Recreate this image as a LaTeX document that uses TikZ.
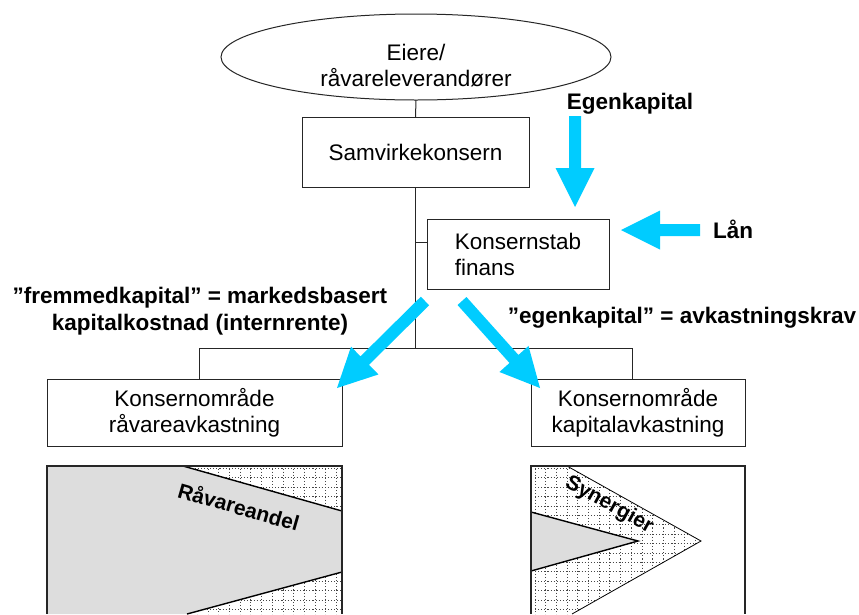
\documentclass[tikz,border=0pt]{standalone}
\usepackage{fontspec}
\setmainfont{Liberation Sans}
\usetikzlibrary{calc,shapes.geometric}
\definecolor{flowblue}{RGB}{0,204,255}
\definecolor{panelgray}{RGB}{221,221,221}
\definecolor{gridgray}{RGB}{70,70,70}

% block arrow from #1 to #2 (named coordinates)
\newcommand{\blockarrow}[2]{%
  \path ($(#2)!39pt!(#1)$) coordinate (ba-base);
  \fill[flowblue] ($(#1)!6pt!90:(#2)$) -- ($(ba-base)!6pt!-90:(#1)$)
    -- ($(ba-base)!19.5pt!-90:(#1)$) -- (#2)
    -- ($(ba-base)!19.5pt!90:(#1)$) -- ($(ba-base)!6pt!90:(#1)$)
    -- ($(#1)!6pt!-90:(#2)$) -- cycle;}

% dotted grid inside the current clip, starting at (#1,#2)
\newcommand{\dotgrid}[2]{%
  \foreach \i in {0,...,17} {
    \draw[griddots] ({#1+10.7*\i},{#2}) -- ({#1+10.7*\i},{#2+160});
    \draw[griddots] ({#1},{#2+9.4*\i}) -- ({#1+190},{#2+9.4*\i});
  }}

\begin{document}
\begin{tikzpicture}[x=1pt,y=-1pt,
  every node/.style={inner sep=0pt,outer sep=0pt},
  txt/.style={font=\fontsize{22.5}{26}\selectfont,align=center},
  bold/.style={font=\fontsize{22.5}{27}\selectfont\bfseries,align=center},
  unitbox/.style={draw=black!85,line width=1pt,fill=white,txt},
  tree/.style={draw=black!85,line width=1pt},
  griddots/.style={gridgray,line width=0.9pt,dash pattern=on 1.1pt off 2pt},
  edge/.style={black,line width=1.4pt},
  thinedge/.style={black,line width=0.8pt},
  frame/.style={draw=black!85,line width=1.2pt},
  panellabel/.style={font=\fontsize{21}{24}\selectfont\bfseries}]
\useasboundingbox (0,0) rectangle (859,614);

% organisation tree
\node[ellipse,draw=black!85,line width=1pt,fill=white,minimum width=390pt,minimum height=86pt] (eiere) at (416,57) {};
\node[txt] (eieretext) at (416,66) {Eiere/\\råvareleverandører};
\node[unitbox,minimum width=227pt,minimum height=70pt] (samvirke) at (415.5,152) {Samvirkekonsern};
\node[unitbox,minimum width=182pt,minimum height=70pt,align=left] (stab) at (518,254) {Konsernstab\\finans};
\node[unitbox,minimum width=295pt,minimum height=67pt] (raavare) at (194.5,412.5) {Konsernområde\\råvareavkastning};
\node[unitbox,minimum width=214pt,minimum height=67pt] (kapital) at (638,412.5) {Konsernområde\\kapitalavkastning};

\coordinate (hub) at (415.5,348);
\coordinate (barL) at (199,348);
\coordinate (barR) at (632,348);
\coordinate (stabjoin) at (427,242);
\draw[tree] (eiere.south) -- (samvirke.north);
\draw[tree] (samvirke.south) -- (hub);
\draw[tree] (stabjoin -| hub) -- (stabjoin);
\draw[tree] (barL) -- (barR);
\draw[tree] (barL) -- (barL |- raavare.north);
\draw[tree] (barR) -- (barR |- kapital.north);

% capital flows
\coordinate (ek-tail) at (575,116);
\coordinate (ek-tip) at (575,207);
\coordinate (lan-tail) at (700,230);
\coordinate (lan-tip) at (621,230);
\coordinate (fk-tail) at (425,301);
\coordinate (fk-tip) at (337,388);
\coordinate (ak-tail) at (462,301);
\coordinate (ak-tip) at (540,388);
\blockarrow{ek-tail}{ek-tip}
\blockarrow{lan-tail}{lan-tip}
\blockarrow{fk-tail}{fk-tip}
\blockarrow{ak-tail}{ak-tip}

\node[bold] (eklabel) at (630,104) {Egenkapital};
\node[bold] (lanlabel) at (733,229) {Lån};
\node[bold] (fklabel) at (200,311.5) {”fremmedkapital” = markedsbasert\\kapitalkostnad (internrente)};
\node[bold] (aklabel) at (682,318) {”egenkapital” = avkastningskrav};

% left panel: raw material share
\fill[panelgray] (47,466) -- (183,466) -- (342,511) -- (342,572) -- (187,614) -- (47,614) -- cycle;
\begin{scope}
  \clip (183,466) -- (342,466) -- (342,511) -- cycle;
  \dotgrid{176}{468.5}
\end{scope}
\begin{scope}
  \clip (342,572) -- (342,614) -- (187,614) -- cycle;
  \dotgrid{176}{468.5}
\end{scope}
\draw[edge] (183,466) -- (342,511);
\draw[edge] (342,572) -- (187,614);
\draw[frame] (47,614) -- (47,466) -- (342,466) -- (342,614);
\node[panellabel,rotate=-16] (raavarelabel) at (239,506) {Råvareandel};

% right panel: synergies
\begin{scope}
  \clip (531,466) -- (567,466) -- (701,541) -- (572,614) -- (531,614) -- cycle;
  \dotgrid{535}{468.5}
\end{scope}
\draw[thinedge] (567,466) -- (701,541) -- (572,614);
\fill[panelgray] (531,512) -- (638,541) -- (531,571) -- cycle;
\draw[edge] (531,512) -- (638,541) -- (531,571);
\draw[frame] (531,614) -- (531,466) -- (745,466) -- (745,614);
\node[panellabel,rotate=-29] (synergilabel) at (609,505) {Synergier};
\end{tikzpicture}
\end{document}
